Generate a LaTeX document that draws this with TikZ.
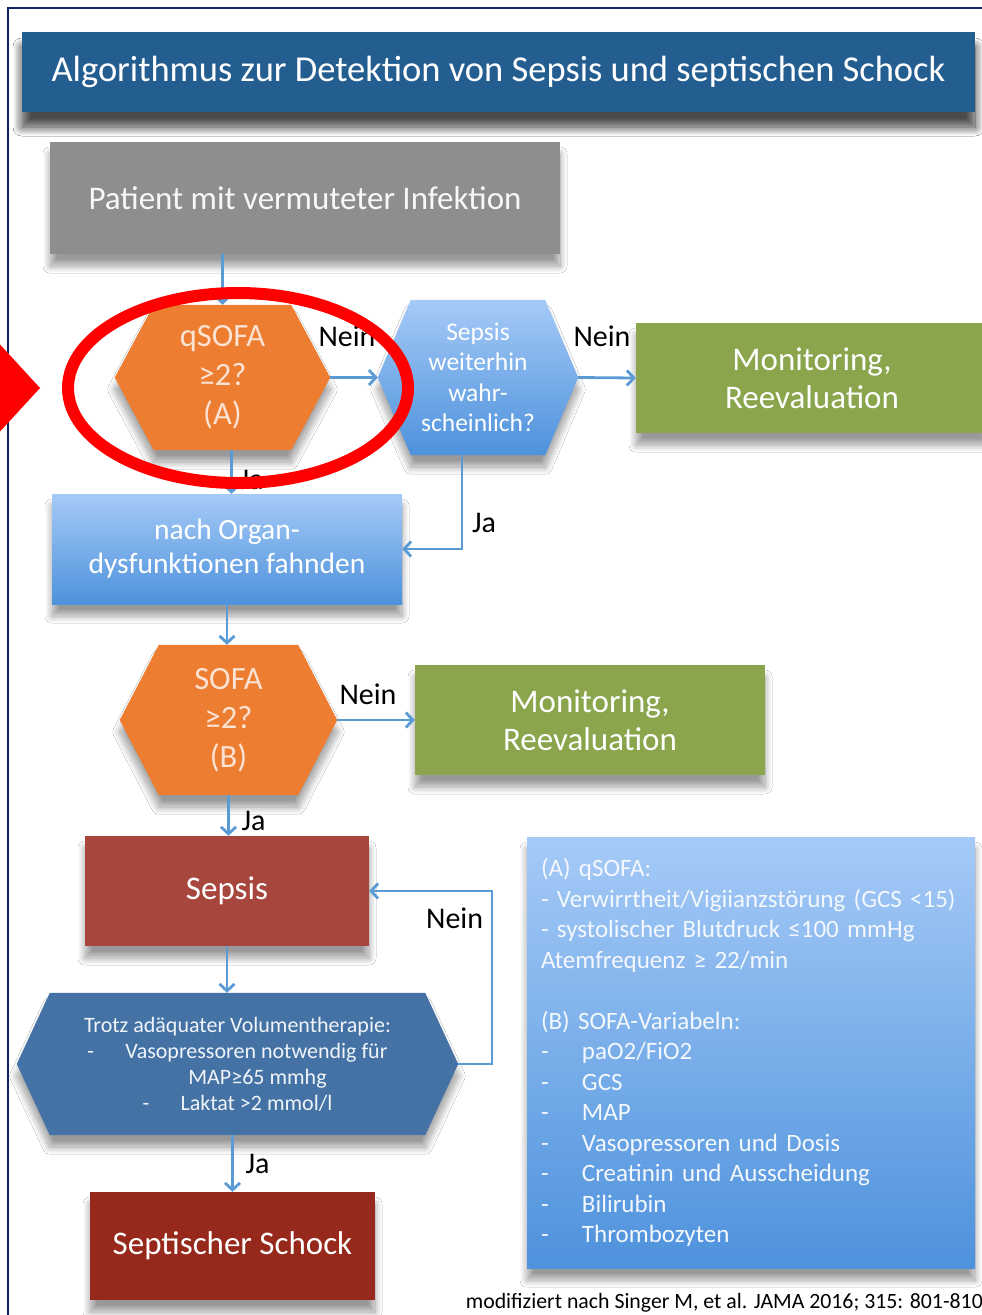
\documentclass[tikz,border=0pt]{standalone}
\usepackage{fontspec}
\setmainfont{Carlito}
\usetikzlibrary{calc,arrows.meta,backgrounds,shadows.blur}

\definecolor{navyline}{RGB}{12,36,102}
\definecolor{titleblue}{RGB}{36,94,145}
\definecolor{patgray}{RGB}{142,142,142}
\definecolor{qorange}{RGB}{237,125,49}
\definecolor{mongreen}{RGB}{138,165,76}
\definecolor{sepsisred}{RGB}{167,70,61}
\definecolor{schockred}{RGB}{151,40,28}
\definecolor{trotzblue}{RGB}{68,114,165}
\definecolor{lbtop}{RGB}{165,202,247}
\definecolor{lbbot}{RGB}{78,146,220}
\definecolor{arrowblue}{RGB}{91,155,213}
\definecolor{markred}{RGB}{255,0,0}

\newcommand\fs[2]{\fontsize{#1}{#2}\selectfont}
% hexagon outline around a node, #2 = horizontal inset of the top/bottom edges
\newcommand\hexpath[2]{(#1.west) -- ($(#1.north west)+(#2,0)$) -- ($(#1.north east)+(-#2,0)$) -- (#1.east) -- ($(#1.south east)+(-#2,0)$) -- ($(#1.south west)+(#2,0)$) -- cycle}

\tikzset{
  softshadow/.style={blur shadow={shadow xshift=0pt, shadow yshift=-12pt, shadow blur radius=7pt, shadow blur steps=20, shadow opacity=40}},
  card/.style={rectangle, inner sep=0pt, text=white, align=center, softshadow},
  hexframe/.style={rectangle, inner sep=0pt, align=center},
  lightblue/.style={top color=lbtop, bottom color=lbbot},
  arr/.style={draw=arrowblue, line width=2.8pt, -{Straight Barb[length=7pt, width=15pt, line width=2.8pt]}},
  lbl/.style={text=black, font=\fs{30}{34}, inner sep=0pt},
}

\begin{document}
\begin{tikzpicture}[x=1pt, y=-1pt]
\useasboundingbox (0,0) rectangle (982,1315);

% title bar
\node[card, fill=titleblue, minimum width=953, minimum height=80,
      blur shadow={shadow xshift=0pt, shadow yshift=-15pt, shadow blur radius=9pt, shadow blur steps=20, shadow opacity=46},
      font=\fs{36.5}{40}] (title) at (498.5,72) {Algorithmus zur Detektion von Sepsis und septischen Schock};

% flow chart boxes
\node[card, fill=patgray, minimum width=510, minimum height=112, font=\fs{33}{38}, text=white!93!patgray] (patient) at (305,198) {Patient mit vermuteter Infektion};

\node[hexframe, minimum width=215, minimum height=145, text=white!78!qorange, font=\fs{32.5}{39}] (qsofa) at (222.5,377.5) {qSOFA\\≥2?\\(A)};
\node[hexframe, minimum width=200, minimum height=155, text=white, font=\fs{25.5}{30.5}] (swh) at (478,377.5) {Sepsis\\weiterhin\\wahr-\\scheinlich?};
\node[card, fill=mongreen, minimum width=352, minimum height=110, font=\fs{33}{38}] (mon1) at (812,378) {Monitoring,\\Reevaluation};

\node[card, lightblue, minimum width=350, minimum height=110, font=\fs{29.5}{34}] (organ) at (227,549) {nach Organ-\\dysfunktionen fahnden};

\node[hexframe, minimum width=217, minimum height=150, text=white!78!qorange, font=\fs{32.5}{39}] (sofa) at (228.5,720) {SOFA\\≥2?\\(B)};
\node[card, fill=mongreen, minimum width=350, minimum height=110, font=\fs{33}{38}] (mon2) at (590,720) {Monitoring,\\Reevaluation};

\node[card, fill=sepsisred, minimum width=284, minimum height=110, font=\fs{33}{38}] (sepsis) at (227,891) {Sepsis};

\node[hexframe, minimum width=441, minimum height=142, text=white!92!trotzblue, font=\fs{22}{26}] (trotz) at (237.5,1064)
  {Trotz adäquater Volumentherapie:\\\makebox[38pt][l]{-}Vasopressoren notwendig für\\\hspace{40pt}MAP≥65 mmhg\\\makebox[38pt][l]{-}Laktat >2 mmol/l};

\node[card, fill=schockred, minimum width=285, minimum height=108, font=\fs{33}{38}] (schock) at (232.5,1246) {Septischer Schock};

\node[card, lightblue, minimum width=448, minimum height=431, text width=420pt, align=left, text=white!94!lbbot, font=\fs{25}{30.5}] (info) at (751,1052.5)
  {(A) qSOFA:\\
   - Verwirrtheit/Vigiianzstörung (GCS <15)\\
   - systolischer Blutdruck ≤100 mmHg\\
   Atemfrequenz ≥ 22/min\\[30.5pt]
   (B) SOFA-Variabeln:\\
   \makebox[41pt][l]{-}paO2/FiO2\\
   \makebox[41pt][l]{-}GCS\\
   \makebox[41pt][l]{-}MAP\\
   \makebox[41pt][l]{-}Vasopressoren und Dosis\\
   \makebox[41pt][l]{-}Creatinin und Ausscheidung\\
   \makebox[41pt][l]{-}Bilirubin\\
   \makebox[41pt][l]{-}Thrombozyten};

% hexagon bodies behind their text
\begin{scope}[on background layer]
  \fill[white] (0,0) rectangle (982,1315);
  \path[fill=qorange, softshadow] \hexpath{qsofa}{39};
  \path[lightblue, softshadow] \hexpath{swh}{33};
  \path[fill=qorange, softshadow] \hexpath{sofa}{39};
  \path[fill=trotzblue, softshadow] \hexpath{trotz}{33};
\end{scope}
\draw[navyline, line width=2.5pt] (8,1320) -- (8,8) -- (995,8);

% connectors
\draw[arr] (qsofa.north |- patient.south) -- (qsofa.north);
\draw[arr] (qsofa.east) -- node[lbl, xshift=-7pt, yshift=41pt] {Nein} (swh.west);
\draw[arr] (swh.east) -- node[lbl, xshift=-5pt, yshift=41pt] {Nein} (mon1.west);
\coordinate (qja) at ($(qsofa.south)+(9,0)$);
\draw[arr] (qja) -- node[lbl, xshift=20pt, yshift=-8pt] {Ja} (qja |- organ.north);
\coordinate (jaturn) at (462,549);
\draw[arr] (jaturn |- swh.south) -- node[lbl, xshift=22pt, yshift=-21pt] {Ja} (jaturn) -- (organ.east);
\draw[arr] (organ.south) -- (organ.south |- sofa.north);
\draw[arr] (sofa.east) -- node[lbl, xshift=-8pt, yshift=26pt] {Nein} (mon2.west);
\draw[arr] (sofa.south) -- node[lbl, xshift=25pt, yshift=-5pt] {Ja} (sofa.south |- sepsis.north);
\draw[arr] (sepsis.south) -- (sepsis.south |- trotz.north);
\coordinate (loop) at (492,891);
\draw[arr] (trotz.east) -| (loop) -- node[lbl, xshift=24pt, yshift=-27pt] {Nein} (sepsis.east);
\draw[arr] (schock.north |- trotz.south) -- node[lbl, xshift=25pt] {Ja} (schock.north);

% reference line
\node[anchor=east, inner sep=0pt, text=black, font=\fs{21.8}{24}] (ref) at (983,1303) {modifiziert nach Singer M, et al. JAMA 2016; 315: 801-810};

% highlight marks
\draw[markred, line width=12pt] (238,388) ellipse [x radius=170, y radius=95];
\fill[markred] (-5,339) -- (40,388) -- (-5,437) -- cycle;
\end{tikzpicture}
\end{document}
